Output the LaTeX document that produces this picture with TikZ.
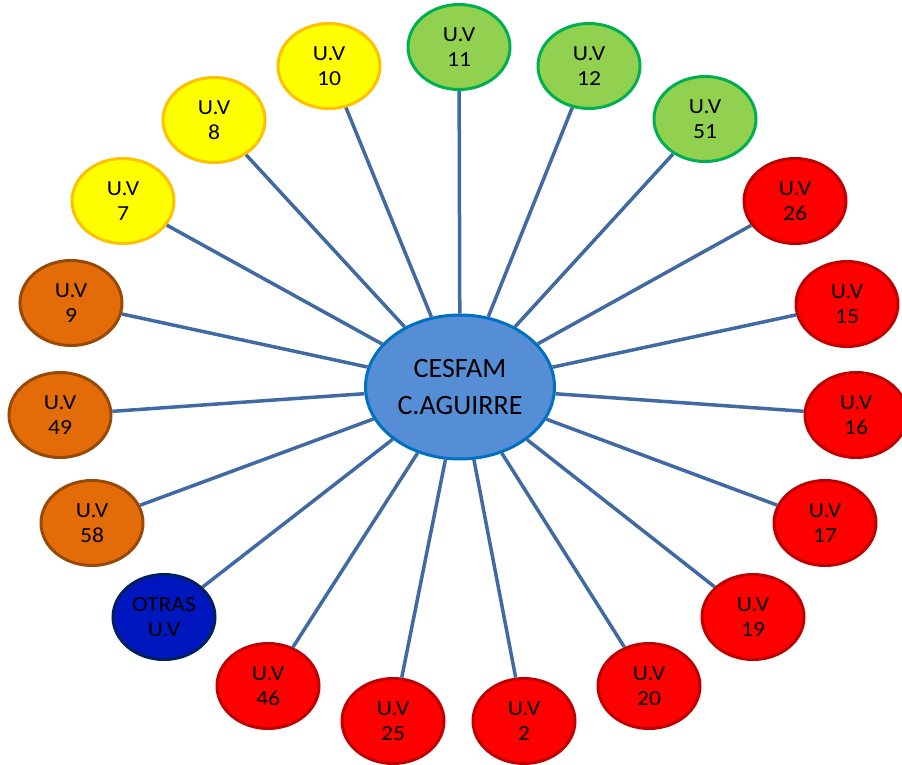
\documentclass[tikz,border=0pt]{standalone}
\usepackage{fontspec}
\setmainfont{Carlito}
\newfontfamily\uvfont{Carlito}[FakeStretch=1.1]
\usetikzlibrary{shapes.geometric}
\definecolor{linkc}{RGB}{66,106,162}
\definecolor{cfill}{RGB}{85,142,213}
\definecolor{cdraw}{RGB}{0,112,192}
\definecolor{yfill}{RGB}{255,255,0}
\definecolor{ydraw}{RGB}{255,192,0}
\definecolor{gfill}{RGB}{146,208,80}
\definecolor{gdraw}{RGB}{0,176,80}
\definecolor{rfill}{RGB}{255,0,0}
\definecolor{rdraw}{RGB}{192,0,0}
\definecolor{ofill}{RGB}{227,108,9}
\definecolor{odraw}{RGB}{152,72,7}
\definecolor{bfill}{RGB}{0,22,190}
\definecolor{bdraw}{RGB}{0,32,96}
\tikzset{
  uv/.style={ellipse, minimum width=102pt, minimum height=85pt, inner sep=0pt,
    line width=3pt, align=center, font=\uvfont\fontsize{21.5}{24.5}\selectfont},
  yel/.style={uv, fill=yfill, draw=ydraw},
  grn/.style={uv, fill=gfill, draw=gdraw},
  red/.style={uv, fill=rfill, draw=rdraw},
  org/.style={uv, fill=ofill, draw=odraw},
  blu/.style={uv, fill=bfill, draw=bdraw},
  hub/.style={ellipse, minimum width=189pt, minimum height=144pt, inner sep=0pt,
    line width=3pt, fill=cfill, draw=cdraw, align=center,
    font=\fontsize{28}{37}\selectfont},
  link/.style={draw=linkc, line width=3.5pt}
}
\begin{document}
\begin{tikzpicture}[x=1pt,y=-1pt]
\path[use as bounding box] (0,0) rectangle (902,765);
\node[hub] (c) at (460,387) {CESFAM\\C.AGUIRRE};
\node[yel] (u10) at (329,66) {U.V\\10};
\node[grn] (u11) at (459,47) {U.V\\11};
\node[grn] (u12) at (589,66) {U.V\\12};
\node[grn] (u51) at (705,119) {U.V\\51};
\node[red] (u26) at (795,201) {U.V\\26};
\node[red] (u15) at (847,304) {U.V\\15};
\node[red] (u16) at (856,415) {U.V\\16};
\node[red] (u17) at (825,523) {U.V\\17};
\node[red] (u19) at (753,617) {U.V\\19};
\node[red] (u20) at (649,686) {U.V\\20};
\node[red] (u2) at (524,721) {U.V\\2};
\node[red] (u25) at (393,721) {U.V\\25};
\node[red] (u46) at (268,686) {U.V\\46};
\node[blu] (uo) at (164,617) {OTRAS\\U.V};
\node[org] (u58) at (92,523) {U.V\\58};
\node[org] (u49) at (60,415) {U.V\\49};
\node[org] (u9) at (71,303) {U.V\\9};
\node[yel] (u7) at (123,201) {U.V\\7};
\node[yel] (u8) at (214,120) {U.V\\8};
\foreach \n in {u10,u11,u12,u51,u26,u15,u16,u17,u19,u20,u2,u25,u46,uo,u58,u49,u9,u7,u8}
  \draw[link] (c) -- (\n);
\end{tikzpicture}
\end{document}
